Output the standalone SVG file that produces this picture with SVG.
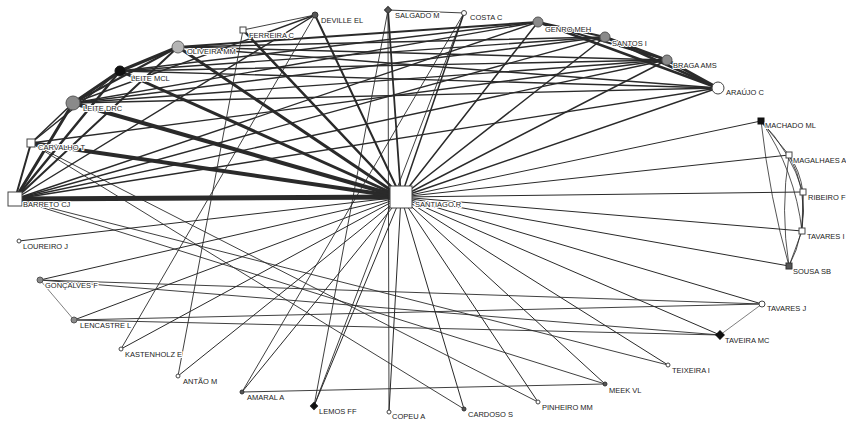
<svg xmlns="http://www.w3.org/2000/svg" width="846" height="422" viewBox="0 0 846 422">
<style>
.e{stroke:#2a2a2a;stroke-linecap:round;fill:none}
.t{font-family:"Liberation Sans",Arial,sans-serif;font-size:7.5px;fill:#222;stroke:#fff;stroke-width:2.2px;stroke-linejoin:round;paint-order:stroke}
.w{fill:#fff;stroke:#444;stroke-width:1}
.g{fill:#8a8a8a;stroke:#555;stroke-width:1}
.lg{fill:#b5b5b5;stroke:#666;stroke-width:1}
.k{fill:#111;stroke:#111;stroke-width:1}
.d{fill:#555;stroke:#333;stroke-width:1}
</style>
<rect width="846" height="422" fill="#fff"/>
<g id="connectors" class="e">
<line x1="15" y1="199" x2="401" y2="197" stroke-width="5"/>
<line x1="31" y1="143" x2="401" y2="197" stroke-width="4"/>
<line x1="73" y1="103" x2="401" y2="197" stroke-width="4"/>
<line x1="120" y1="71" x2="401" y2="197" stroke-width="3"/>
<line x1="178" y1="47" x2="401" y2="197" stroke-width="3"/>
<line x1="243" y1="30" x2="401" y2="197" stroke-width="2.5"/>
<line x1="315" y1="15" x2="401" y2="197" stroke-width="2"/>
<line x1="388" y1="10" x2="401" y2="197" stroke-width="1.8"/>
<line x1="464" y1="13" x2="401" y2="197" stroke-width="1.5"/>
<line x1="538" y1="22" x2="401" y2="197" stroke-width="1.5"/>
<line x1="605" y1="37" x2="401" y2="197" stroke-width="1.5"/>
<line x1="667" y1="60" x2="401" y2="197" stroke-width="1.5"/>
<line x1="718" y1="88" x2="401" y2="197" stroke-width="1.5"/>
<g stroke-width="1">
<line x1="761" y1="121" x2="401" y2="197"/>
<line x1="789" y1="155" x2="401" y2="197"/>
<line x1="803" y1="192" x2="401" y2="197"/>
<line x1="802" y1="231" x2="401" y2="197"/>
<line x1="789" y1="266" x2="401" y2="197"/>
<line x1="762" y1="304" x2="401" y2="197"/>
<line x1="720" y1="335" x2="401" y2="197"/>
<line x1="668" y1="365" x2="401" y2="197"/>
<line x1="605" y1="384" x2="401" y2="197"/>
<line x1="538" y1="402" x2="401" y2="197"/>
<line x1="464" y1="409" x2="401" y2="197"/>
<line x1="389" y1="412" x2="401" y2="197"/>
<line x1="314" y1="406" x2="401" y2="197"/>
<line x1="242" y1="392" x2="401" y2="197"/>
<line x1="178" y1="376" x2="401" y2="197"/>
<line x1="121" y1="349" x2="401" y2="197"/>
<line x1="74" y1="320" x2="401" y2="197"/>
<line x1="40" y1="280" x2="401" y2="197"/>
<line x1="19" y1="241" x2="401" y2="197"/>
</g>
<line x1="15" y1="199" x2="73" y2="103" stroke-width="3"/>
<line x1="15" y1="199" x2="120" y2="71" stroke-width="2.5"/>
<line x1="15" y1="199" x2="178" y2="47" stroke-width="2"/>
<line x1="15" y1="199" x2="31" y2="143" stroke-width="2"/>
<line x1="73" y1="103" x2="120" y2="71" stroke-width="3"/>
<line x1="120" y1="71" x2="178" y2="47" stroke-width="3"/>
<line x1="73" y1="103" x2="178" y2="47" stroke-width="2"/>
<line x1="31" y1="143" x2="73" y2="103" stroke-width="1.5"/>
<line x1="31" y1="143" x2="120" y2="71" stroke-width="1.5"/>
<line x1="178" y1="47" x2="538" y2="22" stroke-width="2"/>
<line x1="178" y1="47" x2="605" y2="37" stroke-width="1.5"/>
<line x1="178" y1="47" x2="667" y2="60" stroke-width="1.5"/>
<line x1="178" y1="47" x2="718" y2="88" stroke-width="1.5"/>
<line x1="538" y1="22" x2="605" y2="37" stroke-width="2"/>
<line x1="538" y1="22" x2="667" y2="60" stroke-width="2"/>
<line x1="538" y1="22" x2="718" y2="88" stroke-width="2.5"/>
<line x1="605" y1="37" x2="667" y2="60" stroke-width="2.5"/>
<line x1="605" y1="37" x2="718" y2="88" stroke-width="2.5"/>
<line x1="667" y1="60" x2="718" y2="88" stroke-width="3"/>
<g stroke-width="1.4">
<line x1="73" y1="103" x2="538" y2="22"/>
<line x1="73" y1="103" x2="605" y2="37"/>
<line x1="73" y1="103" x2="667" y2="60"/>
<line x1="73" y1="103" x2="718" y2="88"/>
<line x1="120" y1="71" x2="538" y2="22"/>
<line x1="120" y1="71" x2="605" y2="37"/>
<line x1="120" y1="71" x2="667" y2="60"/>
<line x1="120" y1="71" x2="718" y2="88"/>
<line x1="15" y1="199" x2="538" y2="22"/>
<line x1="15" y1="199" x2="605" y2="37"/>
<line x1="15" y1="199" x2="667" y2="60"/>
<line x1="15" y1="199" x2="718" y2="88"/>
<line x1="31" y1="143" x2="667" y2="60"/>
<line x1="15" y1="199" x2="315" y2="15"/>
<line x1="73" y1="103" x2="315" y2="15"/>
</g>
<g stroke-width="0.9">
<line x1="243" y1="30" x2="315" y2="15"/>
<line x1="388" y1="10" x2="464" y2="13"/>
<line x1="388" y1="10" x2="389" y2="412"/>
<line x1="388" y1="10" x2="314" y2="406"/>
<line x1="464" y1="13" x2="314" y2="406"/>
<line x1="464" y1="13" x2="242" y2="392"/>
<line x1="243" y1="30" x2="178" y2="376"/>
<line x1="315" y1="15" x2="121" y2="349"/>
<line x1="31" y1="143" x2="538" y2="402"/>
<line x1="31" y1="143" x2="464" y2="409"/>
<line x1="15" y1="199" x2="668" y2="365"/>
<line x1="15" y1="199" x2="605" y2="384"/>
</g>
<g stroke-width="0.9">
<line x1="40" y1="280" x2="762" y2="304"/>
<line x1="40" y1="280" x2="720" y2="335"/>
<line x1="74" y1="320" x2="762" y2="304"/>
<line x1="74" y1="320" x2="720" y2="335"/>
<line x1="40" y1="280" x2="74" y2="320" stroke-width="0.6"/>
<line x1="762" y1="304" x2="720" y2="335" stroke-width="0.6"/>
<line x1="242" y1="392" x2="605" y2="384"/>
</g>
<g stroke-width="0.8">
<line x1="761" y1="121" x2="789" y2="155"/>
<path d="M761 121 Q790 150 803 192"/>
<path d="M761 121 Q795 170 802 231"/>
<path d="M761 121 Q770 200 789 266"/>
<path d="M789 155 Q800 170 803 192"/>
<path d="M789 155 Q808 190 802 231"/>
<path d="M789 155 Q780 210 789 266"/>
<line x1="803" y1="192" x2="802" y2="231"/>
<path d="M803 192 Q806 235 789 266"/>
<line x1="802" y1="231" x2="789" y2="266"/>
</g>
</g>
<g id="n-santiago"><rect class="w" x="390" y="186" width="22" height="22"/><text class="t" x="415" y="207">SANTIAGO R</text></g>
<g id="n-barreto"><rect class="w" x="8" y="192" width="14" height="14"/><text class="t" x="23" y="207">BARRETO CJ</text></g>
<g id="n-carvalho"><rect class="w" x="27" y="139" width="8" height="8"/><text class="t" x="38" y="150">CARVALHO T</text></g>
<g id="n-leitedrc"><circle class="g" cx="73" cy="103" r="7"/><text class="t" x="83" y="111">LEITE DRC</text></g>
<g id="n-leitemcl"><circle class="k" cx="120" cy="71" r="5"/><text class="t" x="131" y="81">LEITE MCL</text></g>
<g id="n-oliveira"><circle class="lg" cx="178" cy="47" r="6"/><text class="t" x="187" y="54">OLIVEIRA MM</text></g>
<g id="n-ferreira"><rect class="w" x="240" y="27" width="6" height="6"/><text class="t" x="249" y="38">FERREIRA C</text></g>
<g id="n-deville"><circle class="d" cx="315" cy="15" r="3"/><text class="t" x="321" y="23">DEVILLE EL</text></g>
<g id="n-salgado"><rect class="d" x="385.5" y="7.5" width="5" height="5" transform="rotate(45 388 10)"/><text class="t" x="395" y="18">SALGADO M</text></g>
<g id="n-costa"><circle class="w" cx="464" cy="13" r="2.5"/><text class="t" x="470" y="20">COSTA C</text></g>
<g id="n-genro"><circle class="g" cx="538" cy="22" r="5"/><text class="t" x="545" y="32">GENRO MEH</text></g>
<g id="n-santos"><circle class="g" cx="605" cy="37" r="5"/><text class="t" x="612" y="46">SANTOS I</text></g>
<g id="n-braga"><circle class="g" cx="667" cy="60" r="5"/><text class="t" x="673" y="68">BRAGA AMS</text></g>
<g id="n-araujo"><circle class="w" cx="718" cy="88" r="6"/><text class="t" x="726" y="95">ARAÚJO C</text></g>
<g id="n-machado"><rect class="k" x="758" y="118" width="6" height="6"/><text class="t" x="765" y="128">MACHADO ML</text></g>
<g id="n-magalhaes"><rect class="w" x="786" y="152" width="6" height="6"/><text class="t" x="793" y="163">MAGALHAES A</text></g>
<g id="n-ribeiro"><rect class="w" x="800" y="189" width="6" height="6"/><text class="t" x="808" y="200">RIBEIRO F</text></g>
<g id="n-tavaresi"><rect class="w" x="799" y="228" width="6" height="6"/><text class="t" x="807" y="239">TAVARES I</text></g>
<g id="n-sousa"><rect class="d" x="786" y="263" width="6" height="6"/><text class="t" x="793" y="274">SOUSA SB</text></g>
<g id="n-tavaresj"><circle class="w" cx="762" cy="304" r="3"/><text class="t" x="767" y="311">TAVARES J</text></g>
<g id="n-taveira"><rect class="k" x="717" y="332" width="6" height="6" transform="rotate(45 720 335)"/><text class="t" x="725" y="343">TAVEIRA MC</text></g>
<g id="n-teixeira"><circle class="w" cx="668" cy="365" r="2"/><text class="t" x="672" y="373">TEIXEIRA I</text></g>
<g id="n-meek"><circle class="d" cx="605" cy="384" r="2"/><text class="t" x="609" y="393">MEEK VL</text></g>
<g id="n-pinheiro"><circle class="w" cx="538" cy="402" r="2"/><text class="t" x="542" y="410">PINHEIRO MM</text></g>
<g id="n-cardoso"><circle class="d" cx="464" cy="409" r="2"/><text class="t" x="468" y="417">CARDOSO S</text></g>
<g id="n-copeu"><circle class="w" cx="389" cy="412" r="2"/><text class="t" x="392" y="419">COPEU A</text></g>
<g id="n-lemos"><rect class="k" x="311.5" y="403.5" width="5" height="5" transform="rotate(45 314 406)"/><text class="t" x="319" y="414">LEMOS FF</text></g>
<g id="n-amaral"><circle class="d" cx="242" cy="392" r="2"/><text class="t" x="247" y="400">AMARAL A</text></g>
<g id="n-antao"><circle class="w" cx="178" cy="376" r="2"/><text class="t" x="183" y="384">ANTÃO M</text></g>
<g id="n-kastenholz"><circle class="w" cx="121" cy="349" r="2"/><text class="t" x="125" y="357">KASTENHOLZ E</text></g>
<g id="n-lencastre"><circle class="g" cx="74" cy="320" r="3"/><text class="t" x="80" y="328">LENCASTRE L</text></g>
<g id="n-goncalves"><circle class="g" cx="40" cy="280" r="3"/><text class="t" x="45" y="288">GONÇALVES F</text></g>
<g id="n-loureiro"><circle class="w" cx="19" cy="241" r="2"/><text class="t" x="23" y="249">LOUREIRO J</text></g>
</svg>
